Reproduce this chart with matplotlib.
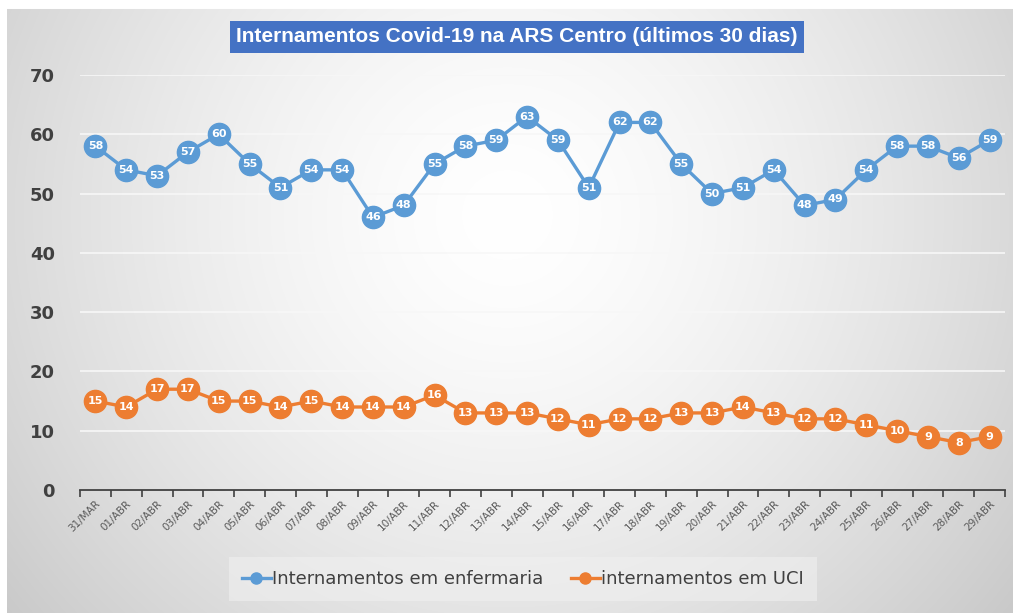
import numpy as np
import matplotlib
matplotlib.use("Agg")
import matplotlib.pyplot as plt
from matplotlib.lines import Line2D

dates = ["31/MAR"] + [f"{d:02d}/ABR" for d in range(1, 30)]
enfermaria = [58, 54, 53, 57, 60, 55, 51, 54, 54, 46, 48, 55, 58, 59, 63,
              59, 51, 62, 62, 55, 50, 51, 54, 48, 49, 54, 58, 58, 56, 59]
uci = [15, 14, 17, 17, 15, 15, 14, 15, 14, 14, 14, 16, 13, 13, 13,
       12, 11, 12, 12, 13, 13, 14, 13, 12, 12, 11, 10, 9, 8, 9]
yticks = [0, 10, 20, 30, 40, 50, 60, 70]
title = "Internamentos Covid-19 na ARS Centro (últimos 30 dias)"
labels = ["Internamentos em enfermaria", "internamentos em UCI"]

blue = "#5B9BD5"
orange = "#ED7D31"

W, H = 1013, 613
fig = plt.figure(figsize=(W / 100, H / 100), dpi=100)

# radial gradient background
bg = fig.add_axes([0, 0, 1, 1])
yy, xx = np.mgrid[0:H, 0:W]
cx, cy = W * 0.5, H * 0.35
r = np.sqrt(((xx - cx) / (W * 0.55)) ** 2 + ((yy - cy) / (H * 0.9)) ** 2)
v = np.clip(1.0 - 0.17 * r ** 1.5, 0.79, 1.0)
img = np.dstack([v, v, v])
img[:9, :, :] = 1.0
img[:, :7, :] = 1.0
bg.imshow(img, aspect="auto", extent=[0, 1, 0, 1], origin="upper")
bg.set_axis_off()

ax = fig.add_axes([80 / W, 1 - 490 / H, (1005 - 80) / W, (490 - 75) / H])
ax.set_facecolor("none")
x = np.arange(len(dates))

for ser, col in [(enfermaria, blue), (uci, orange)]:
    ax.plot(x, ser, color=col, lw=2.4, marker="o", ms=16, mec=col, mfc=col, zorder=3)
    for xi, yi in zip(x, ser):
        ax.text(xi, yi, str(yi), ha="center", va="center", color="white",
                fontsize=8, fontweight="bold", zorder=4)

ax.set_xlim(-0.5, len(dates) - 0.5)
ax.set_ylim(0, 70)
ax.set_yticks(yticks)
ax.set_yticklabels([str(t) for t in yticks], fontsize=13, fontweight="bold", color="#404040")
ax.yaxis.set_tick_params(length=0, pad=18)
ax.grid(axis="y", color="#f7f7f7", lw=1.2, zorder=0)
ax.set_axisbelow(True)

ax.set_xticks(x)
ax.set_xticklabels(dates, rotation=45, ha="right", rotation_mode="anchor",
                   fontsize=7.5, color="#595959")
ax.xaxis.set_tick_params(length=0, pad=6)
ax.set_xticks(np.arange(-0.5, len(dates)), minor=True)
ax.xaxis.set_tick_params(which="minor", length=5, width=1.2, color="#404040", direction="out")
for s in ["top", "right", "left"]:
    ax.spines[s].set_visible(False)
ax.spines["bottom"].set_color("#404040")
ax.spines["bottom"].set_linewidth(1.3)

fig.text(517 / W, 1 - 37 / H, title, ha="center", va="center", color="white",
         fontsize=15, fontweight="bold", family="Liberation Sans",
         bbox=dict(boxstyle="square,pad=0.3", fc="#4472C4", ec="none"))

handles = [Line2D([0], [0], color=blue, lw=2.4, marker="o", ms=8),
           Line2D([0], [0], color=orange, lw=2.4, marker="o", ms=8)]
leg = fig.legend(handles, labels, loc="center", bbox_to_anchor=(523 / W, 1 - 579 / H),
                 ncol=2, frameon=True, fontsize=13, handlelength=1.6, handletextpad=0.1,
                 columnspacing=1.5, borderpad=0.4)
leg.get_frame().set_facecolor("#f0f0f0")
leg.get_frame().set_alpha(0.6)
leg.get_frame().set_edgecolor("none")
leg.get_frame().set_boxstyle("square")
for t in leg.get_texts():
    t.set_color("#404040")

fig.savefig("out.png", dpi=100)
